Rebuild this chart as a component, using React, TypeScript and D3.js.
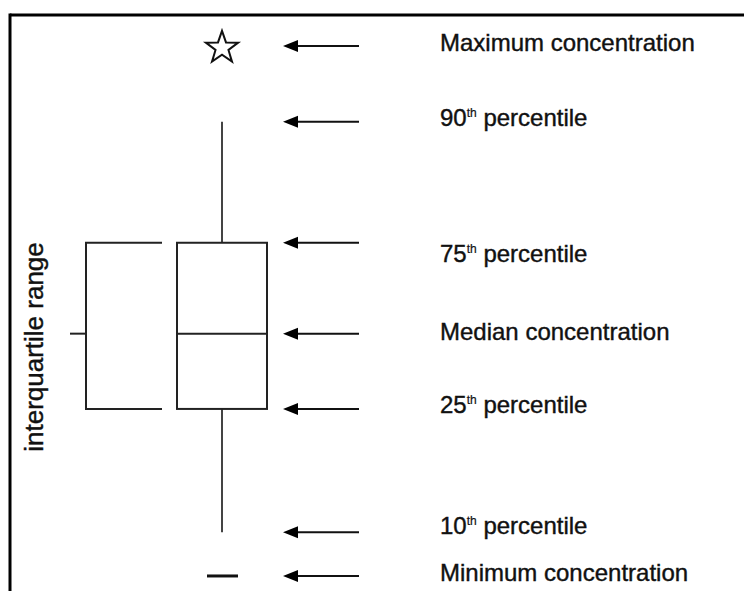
import React from "react";
import * as d3 from "d3";

// Schematic concentration levels (unitless, 0–100 scale)
const statKeys = ["max", "p90", "p75", "median", "p25", "p10", "min"];
const statValues = [95.7, 82.6, 61.7, 46.0, 33.0, 11.7, 4.15];
const labelMain = ["Maximum concentration", "90", "75", "Median concentration", "25", "10", "Minimum concentration"];
const labelSup = ["", "th", "th", "", "th", "th", ""];
const labelRest = ["", " percentile", " percentile", "", " percentile", " percentile", ""];
const labelDy = [5, 4, 19, 6, 4, 2, 5];
const sideLabel = "interquartile range";

const W = 744;
const H = 591;

export default function App() {
  const y = d3.scaleLinear().domain([0, 100]).range([600, 21]);
  const v = (k: string) => statValues[statKeys.indexOf(k)];
  const yMax = y(v("max"));
  const y90 = y(v("p90"));
  const y75 = y(v("p75"));
  const yMed = y(v("median"));
  const y25 = y(v("p25"));
  const y10 = y(v("p10"));
  const yMin = y(v("min"));

  const cx = 222;
  const boxL = 177;
  const boxR = 267;

  // star
  const R = 17;
  const r = 6.8;
  const starPts: [number, number][] = d3.range(10).map((i) => {
    const a = -Math.PI / 2 + (i * Math.PI) / 5;
    const rad = i % 2 === 0 ? R : r;
    return [cx + rad * Math.cos(a), yMax + 2 + rad * Math.sin(a)];
  });
  const starPath = d3.line()(starPts) + "Z";

  const arrowTip = 283;
  const arrowEnd = 359;
  const head = 15;
  const hh = 6;
  const stroke = "#222";

  const textX = 440;

  return (
    <svg
      width={W}
      height={H}
      style={{ position: "absolute", left: 0, top: 0, background: "#fff" }}
      fontFamily="'Liberation Sans', Arial, sans-serif"
    >
      <rect x={0} y={0} width={W} height={H} fill="#fff" />
      {/* frame */}
      <line x1={10} y1={15} x2={W} y2={15} stroke="#000" strokeWidth={3} />
      <line x1={10} y1={13.5} x2={10} y2={H} stroke="#000" strokeWidth={3} />

      {/* star (maximum) */}
      <path d={starPath} fill="none" stroke="#111" strokeWidth={2} strokeLinejoin="miter" />

      {/* whiskers */}
      <line x1={cx} y1={y90} x2={cx} y2={y75} stroke="#444" strokeWidth={2} />
      <line x1={cx} y1={y25} x2={cx} y2={y10} stroke="#444" strokeWidth={2} />

      {/* box */}
      <rect x={boxL} y={y75} width={boxR - boxL} height={y25 - y75} fill="none" stroke={stroke} strokeWidth={2} />
      <line x1={boxL} y1={yMed} x2={boxR} y2={yMed} stroke={stroke} strokeWidth={2} />

      {/* minimum dash */}
      <line x1={207} y1={yMin} x2={238} y2={yMin} stroke="#111" strokeWidth={3} />

      {/* interquartile bracket */}
      <path
        d={`M162,${y75}H86V${y25}H162`}
        fill="none"
        stroke={stroke}
        strokeWidth={2}
      />
      <line x1={70} y1={yMed} x2={86} y2={yMed} stroke={stroke} strokeWidth={2} />
      <text
        transform={`translate(43,347) rotate(-90)`}
        textAnchor="middle"
        fontSize={26}
        fill="#111"
        stroke="#111"
        strokeWidth={0.4}
      >
        {sideLabel}
      </text>

      {/* arrows and labels */}
      {statKeys.map((k, i) => {
        const yy = y(statValues[i]);
        return (
          <g key={k}>
            <line x1={arrowTip + head - 1} y1={yy} x2={arrowEnd} y2={yy} stroke="#111" strokeWidth={2} />
            <path
              d={`M${arrowTip},${yy}L${arrowTip + head},${yy - hh}L${arrowTip + head},${yy + hh}Z`}
              fill="#000"
            />
            <text
              x={textX}
              y={yy + labelDy[i]}
              fontSize={24}
              fill="#111"
              stroke="#111"
              strokeWidth={0.4}
            >
              {labelMain[i]}
              {labelSup[i] ? (
                <>
                  <tspan dy={-9} fontSize={12} strokeWidth={0.2}>{labelSup[i]}</tspan>
                  <tspan dy={9}>{labelRest[i]}</tspan>
                </>
              ) : null}
            </text>
          </g>
        );
      })}
    </svg>
  );
}
